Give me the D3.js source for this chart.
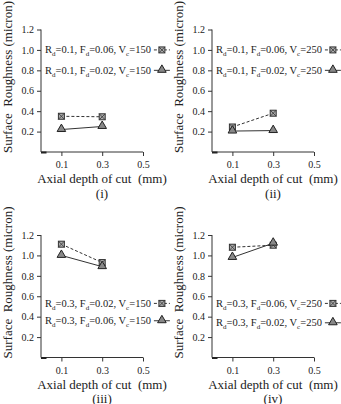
<!DOCTYPE html>
<html>
<head>
<meta charset="utf-8">
<script src="https://cdn.jsdelivr.net/npm/d3@7"></script>
<style>
  body { margin: 0; background: #fff; }
  text { font-family: "Liberation Serif", "Times New Roman", serif; fill: #222; white-space: pre; }
</style>
</head>
<body>
<div id="chart"></div>
<script>
// data
var depth = [0.1, 0.3];
var xTicks = [0.1, 0.3, 0.5];
var yTicks = [0.2, 0.4, 0.6, 0.8, 1.0, 1.2];
var panelNames = ["(i)", "(ii)", "(iii)", "(iv)"];
var squareSeries = [[0.35, 0.345], [0.245, 0.38], [1.11, 0.93], [1.08, 1.10]];
var triangleSeries = [[0.22, 0.25], [0.205, 0.21], [1.0, 0.89], [0.98, 1.12]];
// legend params: [Rd, Fd, Vc] for square row, then triangle row
var squareParams = [["0.1", "0.06", "150"], ["0.1", "0.06", "250"], ["0.3", "0.02", "150"], ["0.3", "0.06", "250"]];
var triangleParams = [["0.1", "0.02", "150"], ["0.1", "0.02", "250"], ["0.3", "0.06", "150"], ["0.3", "0.02", "250"]];
var legendLevel = [[1.0, 0.8], [1.0, 0.8], [0.53, 0.36], [0.53, 0.34]];

var svg = d3.select("#chart")
    .append("svg")
    .attr("width", 341)
    .attr("height", 404);

var offsets = [[0, 0], [171, 0], [0, 205.5], [171, 205.5]];

offsets.forEach(function (o, i) {
    var g = svg.append("g").attr("transform", "translate(" + o[0] + "," + o[1] + ")");

    var x = d3.scaleLinear().domain([0, 0.5]).range([41, 143]);
    var y = d3.scaleLinear().domain([0, 1.2]).range([152, 29.5]);

    // x axis
    var xa = g.append("g")
        .attr("transform", "translate(0," + y(0) + ")")
        .call(d3.axisBottom(x).tickValues(xTicks).tickSize(4).tickPadding(5).tickFormat(d3.format(".1f")));
    xa.select(".domain").attr("d", "M" + x(0) + ",0H" + x(0.5));
    // small thick stub at the origin
    g.append("line")
        .attr("x1", x(0)).attr("x2", x(0.027))
        .attr("y1", y(0) + 0.5).attr("y2", y(0) + 0.5)
        .attr("stroke", "#222").attr("stroke-width", 2);

    // y axis
    var ya = g.append("g")
        .attr("transform", "translate(" + x(0) + ",0)")
        .call(d3.axisLeft(y).tickValues(yTicks).tickSize(4).tickPadding(3).tickFormat(d3.format(".1f")));
    ya.select(".domain").attr("d", "M0," + y(1.2) + "V" + y(0));

    [xa, ya].forEach(function (a) {
        a.selectAll("path, line").attr("stroke", "#333");
        a.selectAll("text").attr("font-size", 10).attr("fill", "#333")
            .style("font-family", "'Liberation Serif', serif");
    });

    // axis titles
    g.append("text")
        .attr("x", 102).attr("y", 183)
        .attr("text-anchor", "middle")
        .attr("font-size", 13)
        .text("Axial depth of cut  (mm)");
    g.append("text")
        .attr("x", 102).attr("y", 197.5)
        .attr("text-anchor", "middle")
        .attr("font-size", 13)
        .text(panelNames[i]);
    g.append("text")
        .attr("transform", "translate(11.5,77) rotate(-90)")
        .attr("text-anchor", "middle")
        .attr("font-size", 13)
        .text("Surface  Roughness (micron)");

    var line = d3.line()
        .x(function (d, k) { return x(depth[k]); })
        .y(function (d) { return y(d); });

    g.append("path")
        .attr("d", line(squareSeries[i]))
        .attr("fill", "none").attr("stroke", "#333").attr("stroke-width", 1)
        .attr("stroke-dasharray", "3,2");
    g.append("path")
        .attr("d", line(triangleSeries[i]))
        .attr("fill", "none").attr("stroke", "#333").attr("stroke-width", 1);

    squareSeries[i].forEach(function (v, k) { drawSquare(g, x(depth[k]), y(v)); });
    triangleSeries[i].forEach(function (v, k) { drawTriangle(g, x(depth[k]), y(v)); });

    // legend
    [squareParams[i], triangleParams[i]].forEach(function (p, r) {
        var ly = y(legendLevel[i][r]) + 3.5;
        var t = g.append("text").attr("x", 45).attr("y", ly).attr("font-size", 10.5);
        t.append("tspan").text("R");
        t.append("tspan").attr("dy", 3).attr("font-size", 7).text("d");
        t.append("tspan").attr("dy", -3).text("=" + p[0] + ", F");
        t.append("tspan").attr("dy", 3).attr("font-size", 7).text("d");
        t.append("tspan").attr("dy", -3).text("=" + p[1] + ", V");
        t.append("tspan").attr("dy", 3).attr("font-size", 7).text("c");
        t.append("tspan").attr("dy", -3).text("=" + p[2]);
        var end = 45 + t.node().getComputedTextLength();
        var mx = end + 11;
        g.append("line")
            .attr("x1", mx - 8).attr("x2", mx + 8)
            .attr("y1", ly - 3.5).attr("y2", ly - 3.5)
            .attr("stroke", "#333").attr("stroke-width", 1)
            .attr("stroke-dasharray", r === 0 ? "3,2" : null);
        if (r === 0) drawSquare(g, mx, ly - 3.5);
        else drawTriangle(g, mx, ly - 3.5);
    });
});

function drawSquare(g, cx, cy) {
    var s = 6;
    g.append("rect")
        .attr("x", cx - s / 2).attr("y", cy - s / 2)
        .attr("width", s).attr("height", s)
        .attr("fill", "#aaa").attr("stroke", "#333").attr("stroke-width", 1);
    g.append("path")
        .attr("d", "M" + (cx - s / 2) + "," + (cy - s / 2) + "L" + (cx + s / 2) + "," + (cy + s / 2) +
                   "M" + (cx + s / 2) + "," + (cy - s / 2) + "L" + (cx - s / 2) + "," + (cy + s / 2))
        .attr("stroke", "#333").attr("stroke-width", 0.8);
}

function drawTriangle(g, cx, cy) {
    g.append("path")
        .attr("transform", "translate(" + cx + "," + (cy - 0.5) + ")")
        .attr("d", d3.symbol().type(d3.symbolTriangle).size(32)())
        .attr("fill", "#888").attr("stroke", "#222").attr("stroke-width", 1);
}
</script>
</body>
</html>
